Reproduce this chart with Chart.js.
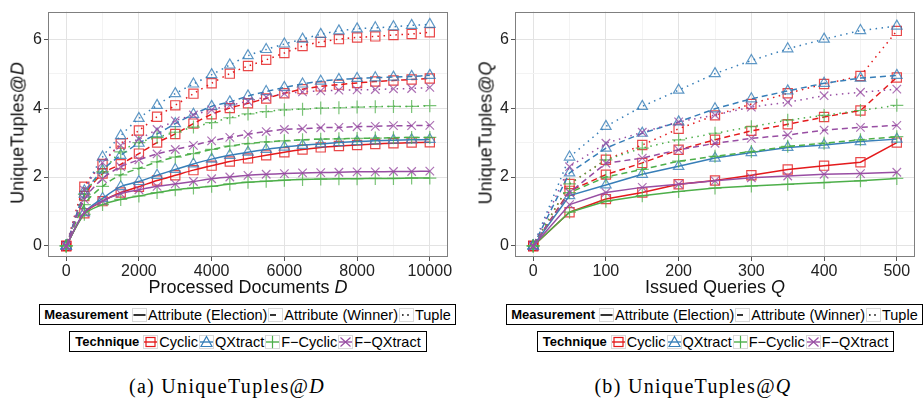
<!DOCTYPE html>
<html lang="en">
<head>
  <meta charset="UTF-8" />
  <title>UniqueTuples@D and UniqueTuples@Q</title>
  <script src="https://cdn.jsdelivr.net/npm/chart.js"></script>
  <style>
    body {
      margin: 0;
      width: 924px;
      height: 402px;
      background: #fff;
      font-family: 'Liberation Sans', Arial, sans-serif;
      position: relative;
      overflow: hidden;
      color: #000;
    }
    canvas { position: absolute; top: 0; }
    .title { position: absolute; font-size: 18px; font-weight: normal; white-space: nowrap; transform: translate(-50%, -50%); color: #111; }
    .ytitle { transform: translate(-50%, -50%) rotate(-90deg); }
    .legend {
      position: absolute;
      height: 21px;
      border: 1px solid #000;
      display: flex;
      align-items: center;
      justify-content: center;
      font-size: 14.5px;
      white-space: nowrap;
      box-sizing: border-box;
    }
    .legend b { font-size: 13px; margin-right: 3px; }
    .legend svg { margin: 0 1px; display: block; }
    .caption {
      position: absolute;
      top: 386px;
      transform: translate(-50%, -50%);
      font-family: 'Liberation Serif', 'DejaVu Serif', serif;
      font-size: 20px;
      letter-spacing: 1.3px;
      white-space: nowrap;
    }
  </style>
</head>
<body>
  <canvas id="docsChart" width="460" height="300" style="left:0"></canvas>
  <canvas id="queriesChart" width="464" height="300" style="left:460px"></canvas>

  <div class="title ytitle" style="left:17.5px;top:133px">UniqueTuples@<i>D</i></div>
  <div class="title" style="left:248px;top:287px">Processed Documents <i>D</i></div>
  <div class="title ytitle" style="left:485.5px;top:133px">UniqueTuples@<i>Q</i></div>
  <div class="title" style="left:715px;top:287px">Issued Queries <i>Q</i></div>

  <div class="legend" id="measA" style="left:39px;top:304px;width:417px"></div>
  <div class="legend" id="techA" style="left:69px;top:331px;width:358px"></div>
  <div class="legend" id="measB" style="left:506px;top:304px;width:417px"></div>
  <div class="legend" id="techB" style="left:537px;top:331px;width:357px"></div>

  <div class="caption" style="left:227px">(a) UniqueTuples@<i>D</i></div>
  <div class="caption" style="left:693px">(b) UniqueTuples@<i>Q</i></div>

  <script>
    // x values
    const docsX = [0, 500, 1000, 1500, 2000, 2500, 3000, 3500, 4000, 4500, 5000,
                   5500, 6000, 6500, 7000, 7500, 8000, 8500, 9000, 9500, 10000];
    const queriesX = [0, 50, 100, 150, 200, 250, 300, 350, 400, 450, 500];

    // (a) UniqueTuples@D
    const docCyclicElection  = [0, 0.95, 1.3, 1.55, 1.72, 1.9, 2.05, 2.2, 2.33, 2.45, 2.54, 2.63, 2.72, 2.8, 2.86, 2.9, 2.93, 2.96, 2.98, 3.0, 3.01];
    const docCyclicWinner    = [0, 1.45, 2.1, 2.37, 2.68, 3.0, 3.25, 3.55, 3.82, 4.0, 4.14, 4.28, 4.43, 4.55, 4.63, 4.68, 4.73, 4.77, 4.8, 4.83, 4.86];
    const docCyclicTuple     = [0, 1.72, 2.38, 2.97, 3.35, 3.75, 4.08, 4.42, 4.72, 5.0, 5.22, 5.4, 5.6, 5.8, 5.92, 6.0, 6.05, 6.08, 6.12, 6.15, 6.2];
    const docQXElection      = [0, 0.97, 1.38, 1.72, 1.87, 2.05, 2.22, 2.38, 2.52, 2.63, 2.72, 2.8, 2.87, 2.92, 2.96, 3.0, 3.03, 3.05, 3.07, 3.08, 3.09];
    const docQXWinner        = [0, 1.5, 2.2, 2.63, 2.98, 3.25, 3.55, 3.82, 4.05, 4.18, 4.35, 4.48, 4.6, 4.7, 4.78, 4.83, 4.86, 4.88, 4.9, 4.92, 4.95];
    const docQXTuple         = [0, 1.6, 2.58, 3.2, 3.7, 4.08, 4.42, 4.7, 4.97, 5.25, 5.52, 5.7, 5.86, 6.0, 6.14, 6.24, 6.3, 6.33, 6.36, 6.4, 6.43];
    const docFCyclicElection = [0, 0.92, 1.2, 1.35, 1.45, 1.55, 1.63, 1.68, 1.73, 1.8, 1.85, 1.88, 1.91, 1.93, 1.94, 1.95, 1.95, 1.96, 1.96, 1.97, 1.97];
    const docFCyclicWinner   = [0, 1.2, 1.73, 2.06, 2.25, 2.44, 2.58, 2.68, 2.8, 2.9, 2.97, 3.02, 3.05, 3.08, 3.1, 3.11, 3.12, 3.13, 3.14, 3.15, 3.15];
    const docFCyclicTuple    = [0, 1.5, 2.15, 2.73, 3.0, 3.15, 3.3, 3.45, 3.58, 3.72, 3.83, 3.9, 3.95, 3.97, 4.0, 4.01, 4.03, 4.04, 4.05, 4.05, 4.07];
    const docFQXElection     = [0, 0.97, 1.3, 1.52, 1.63, 1.73, 1.8, 1.87, 1.95, 2.0, 2.05, 2.08, 2.1, 2.12, 2.13, 2.14, 2.15, 2.15, 2.16, 2.16, 2.17];
    const docFQXWinner       = [0, 1.35, 1.95, 2.3, 2.5, 2.67, 2.8, 2.92, 3.05, 3.15, 3.24, 3.32, 3.38, 3.4, 3.43, 3.44, 3.46, 3.47, 3.49, 3.49, 3.5];
    const docFQXTuple        = [0, 1.62, 2.42, 2.92, 3.1, 3.38, 3.63, 3.8, 3.95, 4.08, 4.2, 4.32, 4.42, 4.47, 4.5, 4.52, 4.53, 4.54, 4.56, 4.57, 4.6];

    // (b) UniqueTuples@Q
    const qCyclicElection  = [0, 0.98, 1.36, 1.55, 1.79, 1.9, 2.05, 2.22, 2.33, 2.43, 3.0];
    const qCyclicWinner    = [0, 1.6, 2.07, 2.41, 2.79, 3.08, 3.34, 3.53, 3.74, 3.93, 4.89];
    const qCyclicTuple     = [0, 1.8, 2.5, 2.93, 3.4, 3.79, 4.12, 4.43, 4.7, 4.93, 6.24];
    const qQXElection      = [0, 1.46, 1.77, 2.08, 2.31, 2.55, 2.71, 2.86, 2.93, 3.03, 3.1];
    const qQXWinner        = [0, 2.12, 2.84, 3.27, 3.6, 3.98, 4.27, 4.5, 4.72, 4.87, 4.95];
    const qQXTuple         = [0, 2.58, 3.47, 4.05, 4.52, 5.0, 5.38, 5.72, 6.0, 6.25, 6.38];
    const qFCyclicElection = [0, 0.98, 1.3, 1.46, 1.58, 1.68, 1.74, 1.79, 1.84, 1.89, 1.96];
    const qFCyclicWinner   = [0, 1.55, 2.0, 2.22, 2.46, 2.6, 2.74, 2.89, 2.98, 3.08, 3.17];
    const qFCyclicTuple    = [0, 1.8, 2.5, 2.84, 3.08, 3.27, 3.46, 3.65, 3.79, 3.93, 4.08];
    const qFQXElection     = [0, 1.2, 1.55, 1.7, 1.79, 1.89, 1.98, 2.03, 2.08, 2.1, 2.14];
    const qFQXWinner       = [0, 1.55, 2.4, 2.55, 2.79, 2.98, 3.12, 3.22, 3.36, 3.44, 3.5];
    const qFQXTuple        = [0, 2.3, 2.98, 3.3, 3.6, 3.8, 4.03, 4.17, 4.36, 4.46, 4.55];

    const docsXTicks = [0, 2000, 4000, 6000, 8000, 10000];
    const queriesXTicks = [0, 100, 200, 300, 400, 500];
    const yTicks = [0, 2, 4, 6];

    const techniques = ['Cyclic', 'QXtract', 'F\u2212Cyclic', 'F\u2212QXtract'];
    const measurements = ['Attribute (Election)', 'Attribute (Winner)', 'Tuple'];

    const colors = ['#E41A1C', '#377EB8', '#4DAF4A', '#984EA3'];
    const markColors = ['rgba(228,26,28,0.8)', 'rgba(55,126,184,0.8)', 'rgba(77,175,74,0.75)', 'rgba(152,78,163,0.8)'];
    const shapes = ['rect', 'triangle', 'cross', 'crossRot'];
    const radii = [6.5, 6, 6.5, 6];
    const dashes = [[], [6, 4], [1.5, 4.5]];

    const docSeries = [
      [docCyclicElection, docCyclicWinner, docCyclicTuple],
      [docQXElection, docQXWinner, docQXTuple],
      [docFCyclicElection, docFCyclicWinner, docFCyclicTuple],
      [docFQXElection, docFQXWinner, docFQXTuple]
    ];
    const qSeries = [
      [qCyclicElection, qCyclicWinner, qCyclicTuple],
      [qQXElection, qQXWinner, qQXTuple],
      [qFCyclicElection, qFCyclicWinner, qFCyclicTuple],
      [qFQXElection, qFQXWinner, qFQXTuple]
    ];

    function makeDatasets(xs, series, tension) {
      const out = [];
      // draw the F- techniques first so squares/triangles stay on top
      for (let t = 3; t >= 0; t--) {
        for (let m = 0; m < 3; m++) {
          out.push({
            label: techniques[t] + ' / ' + measurements[m],
            data: xs.map((x, i) => ({ x: x, y: series[t][m][i] })),
            borderColor: colors[t],
            borderWidth: 1.5,
            borderDash: dashes[m],
            tension: tension,
            pointStyle: shapes[t],
            pointRadius: radii[t],
            pointBorderWidth: 1.2,
            pointBorderColor: markColors[t],
            pointBackgroundColor: 'rgba(0,0,0,0)',
            fill: false
          });
        }
      }
      return out;
    }

    const frame = {
      id: 'frame',
      afterDatasetsDraw(chart) {
        const a = chart.chartArea;
        const ctx = chart.ctx;
        ctx.save();
        ctx.strokeStyle = '#7f7f7f';
        ctx.lineWidth = 1;
        ctx.strokeRect(Math.round(a.left) + 0.5, Math.round(a.top) + 0.5,
                       Math.round(a.right - a.left) - 1, Math.round(a.bottom - a.top) - 1);
        ctx.restore();
      }
    };

    function makeChart(id, xs, series, xMin, xMax, xStep, majorX, yWidth, padRight, tension) {
      const majorSet = new Set(majorX);
      return new Chart(document.getElementById(id), {
        type: 'line',
        data: { datasets: makeDatasets(xs, series, tension) },
        plugins: [frame],
        options: {
          responsive: false,
          animation: false,
          layout: { padding: { left: 0, right: padRight, top: 7, bottom: 0 } },
          plugins: { legend: { display: false }, tooltip: { enabled: false } },
          scales: {
            x: {
              type: 'linear',
              min: xMin,
              max: xMax,
              afterBuildTicks(scale) {
                const t = [];
                for (let v = 0; v <= majorX[majorX.length - 1]; v += xStep) t.push({ value: v });
                scale.ticks = t;
              },
              afterFit(scale) { scale.height = 43; },
              ticks: {
                autoSkip: false,
                maxRotation: 0,
                padding: 1,
                color: '#222',
                font: { family: "'Liberation Sans', Arial, sans-serif", size: 16 },
                callback: v => majorSet.has(v) ? String(v) : ''
              },
              grid: {
                color: ctx => majorSet.has(ctx.tick.value) ? '#e3e3e3' : '#f3f3f3',
                tickColor: ctx => majorSet.has(ctx.tick.value) ? '#555' : 'rgba(0,0,0,0)',
                tickLength: 4
              },
              border: { display: false }
            },
            y: {
              type: 'linear',
              min: -0.32,
              max: 6.8,
              afterBuildTicks(scale) {
                const t = [];
                for (let v = 0; v <= 6; v += 1) t.push({ value: v });
                scale.ticks = t;
              },
              afterFit(scale) { scale.width = yWidth; },
              ticks: {
                padding: 2,
                color: '#222',
                font: { family: "'Liberation Sans', Arial, sans-serif", size: 16 },
                callback: v => yTicks.includes(v) ? String(v) : ''
              },
              grid: {
                color: ctx => yTicks.includes(ctx.tick.value) ? '#e3e3e3' : '#f3f3f3',
                tickColor: ctx => yTicks.includes(ctx.tick.value) ? '#555' : 'rgba(0,0,0,0)',
                tickLength: 4
              },
              border: { display: false }
            }
          }
        }
      });
    }

    makeChart('docsChart', docsX, docSeries, -500, 10500, 1000, docsXTicks, 48, 12, 0.3);
    makeChart('queriesChart', queriesX, qSeries, -25, 525, 50, queriesXTicks, 55, 9, 0);

    // legends
    function measKey(m) {
      let line = '';
      if (m === 0) line = '<line x1="1.5" y1="7" x2="13.5" y2="7" stroke="#000" stroke-width="1.6"/>';
      if (m === 1) line = '<line x1="2" y1="7" x2="8" y2="7" stroke="#000" stroke-width="1.6"/>';
      if (m === 2) line = '<line x1="3" y1="7" x2="13" y2="7" stroke="#000" stroke-width="1.6" stroke-dasharray="1.6,3.6"/>';
      return '<svg width="15" height="14"><rect x="0.5" y="0.5" width="14" height="13" fill="#fff" stroke="#d9d9d9"/>' + line + '</svg>';
    }
    function techKey(t) {
      const c = colors[t];
      let mark = '';
      if (t === 0) mark = '<rect x="3" y="2.5" width="9" height="9" fill="none" stroke="' + c + '" stroke-width="1.2"/>';
      if (t === 1) mark = '<polygon points="7.5,1.5 13,11.5 2,11.5" fill="none" stroke="' + c + '" stroke-width="1.2"/>';
      if (t === 2) mark = '<line x1="7.5" y1="0.8" x2="7.5" y2="13.2" stroke="' + c + '" stroke-width="1.2"/>';
      if (t === 3) mark = '<line x1="2.5" y1="2.5" x2="12.5" y2="11.5" stroke="' + c + '" stroke-width="1.2"/><line x1="12.5" y1="2.5" x2="2.5" y2="11.5" stroke="' + c + '" stroke-width="1.2"/>';
      return '<svg width="15" height="14"><rect x="0.5" y="0.5" width="14" height="13" fill="#fff" stroke="#d9d9d9"/>' +
        '<line x1="1" y1="7" x2="14" y2="7" stroke="' + c + '" stroke-width="1.4"/>' + mark + '</svg>';
    }
    function fillLegends(measId, techId) {
      let h = '<b>Measurement</b>';
      measurements.forEach((m, i) => { h += measKey(i) + '<span>' + m + '</span>'; });
      document.getElementById(measId).innerHTML = h;
      let g = '<b>Technique</b>';
      techniques.forEach((t, i) => { g += techKey(i) + '<span>' + t + '</span>'; });
      document.getElementById(techId).innerHTML = g;
    }
    fillLegends('measA', 'techA');
    fillLegends('measB', 'techB');
  </script>
</body>
</html>
